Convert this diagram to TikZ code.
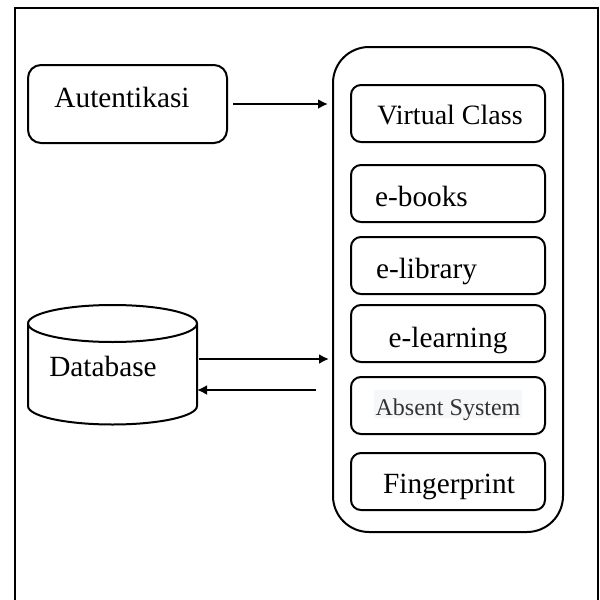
\documentclass[tikz,border=0pt]{standalone}
\usepackage{fontspec}
\setmainfont{Liberation Serif}
\usetikzlibrary{arrows.meta}
\definecolor{absentbg}{HTML}{F6F7F9}
\definecolor{absenttext}{HTML}{333333}
\tikzset{
  x=1pt,y=-1pt,
  boxline/.style={draw=black,line width=2pt},
  innerbox/.style={boxline,rounded corners=10pt},
  flow/.style={draw=black,line width=2.3pt,-{Latex[length=10pt,width=10pt]}},
  txt/.style={inner sep=0pt,anchor=base,font=\fontsize{29.3}{34}\selectfont,text=black}
}
\begin{document}
\begin{tikzpicture}
\useasboundingbox (0,0) rectangle (600,600);
\draw[draw=black,line width=2.2pt] (15,600) -- (15,8) -- (598,8) -- (598,600);
% authentication
\draw[innerbox,rounded corners=13pt] (28,65) rectangle (227,143);
\node[txt] (auth) at (122,107) {Autentikasi};
\coordinate (a1) at (233,104);
\coordinate (a2) at (328,104);
\draw[flow] (a1) -- (a2);
% database
\draw[boxline] (28,323.5) arc[start angle=180,end angle=540,x radius=84.5,y radius=18.5];
\draw[boxline] (28,323.5) -- (28,406) arc[start angle=180,end angle=0,x radius=84.5,y radius=18.5] -- (197,323.5);
\node[txt] (db) at (103,376.5) {Database};
\coordinate (d1) at (199,359);
\coordinate (d2) at (329,359);
\coordinate (d3) at (316,390);
\coordinate (d4) at (197,390);
\draw[flow] (d1) -- (d2);
\draw[flow] (d3) -- (d4);
% container
\draw[boxline,rounded corners=36pt] (333,47) rectangle (563,532);
\draw[innerbox] (351,85) rectangle (545,142);
\draw[innerbox] (351,165) rectangle (545,222);
\draw[innerbox] (351,237) rectangle (545,294);
\draw[innerbox] (351,305) rectangle (545,362);
\draw[innerbox] (351,377) rectangle (545,434);
\draw[innerbox] (351,453) rectangle (545,510);
\node[txt,font=\fontsize{28}{32}\selectfont] (vc) at (450,124) {Virtual Class};
\node[txt] (eb) at (421.5,206.5) {e-books};
\node[txt] (el) at (426.5,278) {e-library};
\node[txt] (en) at (448,347.5) {e-learning};
\fill[absentbg] (374,390) rectangle (522,418);
\node[txt,font=\fontsize{24}{28}\selectfont,text=absenttext] (ab) at (448,415) {Absent System};
\node[txt] (fp) at (449,493) {Fingerprint};
\end{tikzpicture}
\end{document}
